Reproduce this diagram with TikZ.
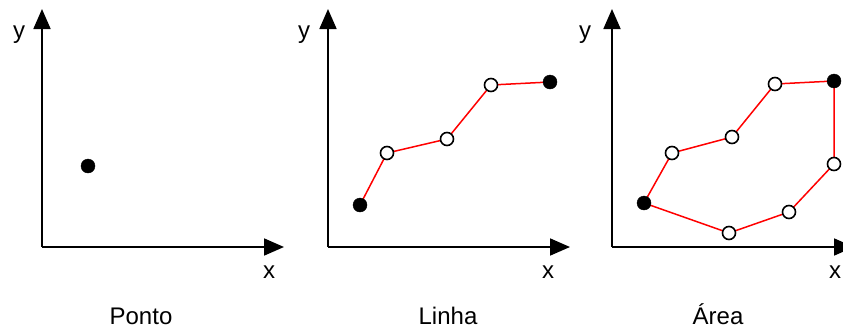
\documentclass[tikz,border=0pt]{standalone}
\usepackage{fontspec}
\setmainfont{Liberation Sans}
\usetikzlibrary{arrows.meta}
\begin{document}
\begin{tikzpicture}[x=1pt,y=-1pt,
  axis/.style={line width=1.8pt,-{Triangle[length=20pt,width=17pt]}},
  fullpt/.style={circle,fill=black,draw=black,inner sep=0pt,minimum size=14pt},
  openpt/.style={circle,fill=white,draw=black,line width=1.6pt,inner sep=0pt,minimum size=13pt},
  edge/.style={red,line width=1.5pt},
  axlab/.style={font=\fontsize{24}{26}\selectfont,inner sep=0pt,anchor=base},
  title/.style={font=\fontsize{24}{26}\selectfont,inner sep=0pt,anchor=base}]
\useasboundingbox (0,0) rectangle (843,330);
% Panel 1
\coordinate (o1) at (42,247);
\coordinate (y1) at (42,9);
\coordinate (x1) at (284,247);
\draw[axis] (o1) -- (y1);
\draw[axis] (o1) -- (x1);
\node[axlab] (ly1) at (19,38) {y};
\node[axlab] (lx1) at (269,278) {x};
\node[fullpt] (p1) at (88,166) {};
\node[title] (t1) at (141,324) {Ponto};
% Panel 2
\coordinate (o2) at (328,247);
\coordinate (y2) at (328,9);
\coordinate (x2) at (570,247);
\draw[axis] (o2) -- (y2);
\draw[axis] (o2) -- (x2);
\node[axlab] (ly2) at (304,38) {y};
\node[axlab] (lx2) at (548,278) {x};
\node[title] (t2) at (448,324) {Linha};
\coordinate (a1) at (360,205);
\coordinate (a2) at (387,153);
\coordinate (a3) at (447,139);
\coordinate (a4) at (491,85);
\coordinate (a5) at (550,82);
\draw[edge] (a1) -- (a2) -- (a3) -- (a4) -- (a5);
\node[fullpt] (la1) at (a1) {};
\node[openpt] (la2) at (a2) {};
\node[openpt] (la3) at (a3) {};
\node[openpt] (la4) at (a4) {};
\node[fullpt] (la5) at (a5) {};
% Panel 3
\coordinate (o3) at (612,247);
\coordinate (y3) at (612,9);
\coordinate (x3) at (854,247);
\draw[axis] (o3) -- (y3);
\draw[axis] (o3) -- (x3);
\node[axlab] (ly3) at (585,38) {y};
\node[axlab] (lx3) at (835,278) {x};
\node[title] (t3) at (718,324) {Área};
\coordinate (b1) at (644,203);
\coordinate (b2) at (672,153);
\coordinate (b3) at (732,137);
\coordinate (b4) at (775,84);
\coordinate (b5) at (834,81);
\coordinate (b6) at (834,164);
\coordinate (b7) at (789,212);
\coordinate (b8) at (729,233);
\draw[edge] (b1) -- (b2) -- (b3) -- (b4) -- (b5) -- (b6) -- (b7) -- (b8) -- cycle;
\node[fullpt] (pb1) at (b1) {};
\node[openpt] (pb2) at (b2) {};
\node[openpt] (pb3) at (b3) {};
\node[openpt] (pb4) at (b4) {};
\node[fullpt] (pb5) at (b5) {};
\node[openpt] (pb6) at (b6) {};
\node[openpt] (pb7) at (b7) {};
\node[openpt] (pb8) at (b8) {};
\end{tikzpicture}
\end{document}
